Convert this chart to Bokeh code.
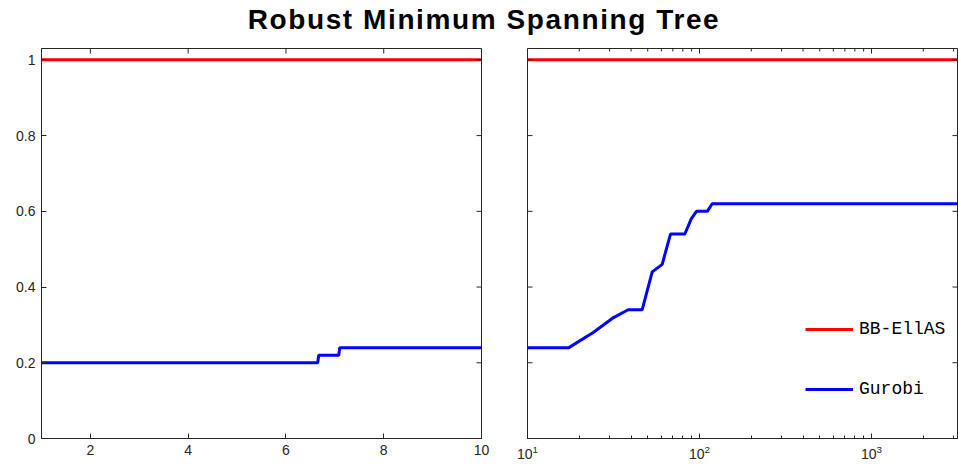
import math
from bokeh.plotting import figure
from bokeh.models import (Div, Legend, LegendItem, FixedTicker, LogTicker, Range1d)
from bokeh.layouts import column, row
from bokeh.embed import file_html
from bokeh.resources import INLINE

# ---------------- data ----------------
title_text = "Robust Minimum Spanning Tree"
series_names = ["BB-EllAS", "Gurobi"]
series_colors = ["#ff0000", "#0000ff"]

y_ticks = [0, 0.2, 0.4, 0.6, 0.8, 1.0]
y_tick_labels = ["0", "0.2", "0.4", "0.6", "0.8", "1"]
left_x_ticks = [2, 4, 6, 8, 10]
right_major_ticks = [10, 100, 1000]
right_minor_ticks = [20, 30, 40, 50, 60, 70, 80, 90,
                     200, 300, 400, 500, 600, 700, 800, 900,
                     2000, 3000]

# left panel (linear x)
left_bb_x = [1, 10]
left_bb_y = [1.0, 1.0]
left_gu_x = [1, 6.65, 6.67, 7.08, 7.1, 10]
left_gu_y = [0.20, 0.20, 0.22, 0.22, 0.24, 0.24]

# right panel (log x)
right_bb_x = [10, 3200]
right_bb_y = [1.0, 1.0]
right_gu_x = [10, 17.4, 24.1, 31.8, 38.5, 46.4, 53.1, 60.7, 67.8, 82.2, 89.5, 96, 111, 118.5, 3200]
right_gu_y = [0.24, 0.24, 0.28, 0.32, 0.34, 0.34, 0.44, 0.46, 0.54, 0.54, 0.58, 0.60, 0.60, 0.62, 0.62]

# ranges
Y_MIN, Y_MAX = 0, 1.03
L_XMIN, L_XMAX = 1, 10
R_XMIN, R_XMAX = 10, 3162

# ---------------- styling helpers ----------------
AX = "#262626"
TICK_FONT = "Liberation Sans"


def style_axis(ax, minor=False):
    ax.axis_line_color = AX
    ax.major_tick_line_color = AX
    ax.major_tick_in = 5
    ax.major_tick_out = 0
    if minor:
        ax.minor_tick_line_color = AX
        ax.minor_tick_in = 3
        ax.minor_tick_out = 0
    else:
        ax.minor_tick_line_color = None
    ax.major_label_text_color = AX
    ax.major_label_text_font = TICK_FONT
    ax.major_label_text_font_size = "14px"
    ax.major_label_standoff = 6


def base_fig(width, x_type, x_range, mbl, mbr):
    p = figure(width=width, height=427, x_axis_type=x_type,
               x_range=x_range, y_range=Range1d(Y_MIN, Y_MAX),
               output_backend="svg", toolbar_location=None,
               min_border_left=mbl, min_border_right=mbr,
               min_border_top=8, min_border_bottom=29)
    p.xgrid.visible = False
    p.ygrid.visible = False
    p.outline_line_color = AX
    p.outline_line_width = 1
    p.background_fill_color = "white"
    p.border_fill_color = "white"
    return p


def edge_ticks(p, xs, ys, size, vertical):
    # inward tick marks on the box edges (half of each dash is clipped by the frame)
    p.scatter(xs, ys, marker="dash", size=size, line_color=AX, line_width=1,
              angle=(math.pi / 2 if vertical else 0))


# ---------------- left panel ----------------
p1 = base_fig(504, "linear", Range1d(L_XMIN, L_XMAX), 41, 23)
p1.line(left_bb_x, left_bb_y, color=series_colors[0], line_width=3)
p1.line(left_gu_x, left_gu_y, color=series_colors[1], line_width=3)
p1.xaxis.ticker = FixedTicker(ticks=left_x_ticks)
p1.yaxis.ticker = FixedTicker(ticks=y_ticks)
p1.yaxis.major_label_overrides = {t: l for t, l in zip(y_ticks, y_tick_labels)}
style_axis(p1.xaxis[0])
style_axis(p1.yaxis[0])
edge_ticks(p1, left_x_ticks, [Y_MAX] * len(left_x_ticks), 10, True)
edge_ticks(p1, [L_XMAX] * len(y_ticks), y_ticks, 10, False)

# ---------------- right panel ----------------
p2 = base_fig(454, "log", Range1d(R_XMIN, R_XMAX), 23, 1)
r_bb = p2.line(right_bb_x, right_bb_y, color=series_colors[0], line_width=3)
r_gu = p2.line(right_gu_x, right_gu_y, color=series_colors[1], line_width=3)
p2.xaxis.ticker = LogTicker(num_minor_ticks=10)
style_axis(p2.xaxis[0], minor=True)
p2.yaxis.visible = False
edge_ticks(p2, [R_XMIN] * len(y_ticks), y_ticks, 10, False)
edge_ticks(p2, [R_XMAX] * len(y_ticks), y_ticks, 10, False)
edge_ticks(p2, right_major_ticks, [Y_MAX] * len(right_major_ticks), 10, True)
edge_ticks(p2, right_minor_ticks, [Y_MAX] * len(right_minor_ticks), 6, True)

legend = Legend(
    items=[LegendItem(label=series_names[0], renderers=[r_bb]),
           LegendItem(label=series_names[1], renderers=[r_gu])],
    location=(278, 39),
    orientation="vertical",
    glyph_width=48, glyph_height=20, label_height=20,
    spacing=40, label_standoff=6, padding=0, margin=0,
    border_line_color=None, background_fill_alpha=0,
    label_text_font="Liberation Mono", label_text_font_size="18px",
    label_text_color="black",
)
p2.add_layout(legend)

# ---------------- title ----------------
title = Div(
    text=("<div style=\"font-family:'Liberation Sans',Arial,sans-serif;"
          "font-weight:bold;font-size:28px;line-height:28px;text-align:center;"
          "letter-spacing:1.6px;color:#000;width:958px;margin-top:1px;\">"
          + title_text + "</div>"),
    width=958, height=30)

layout = column(title, row(p1, p2, spacing=0), spacing=0)
open("out.html", "w").write(file_html(layout, INLINE))
